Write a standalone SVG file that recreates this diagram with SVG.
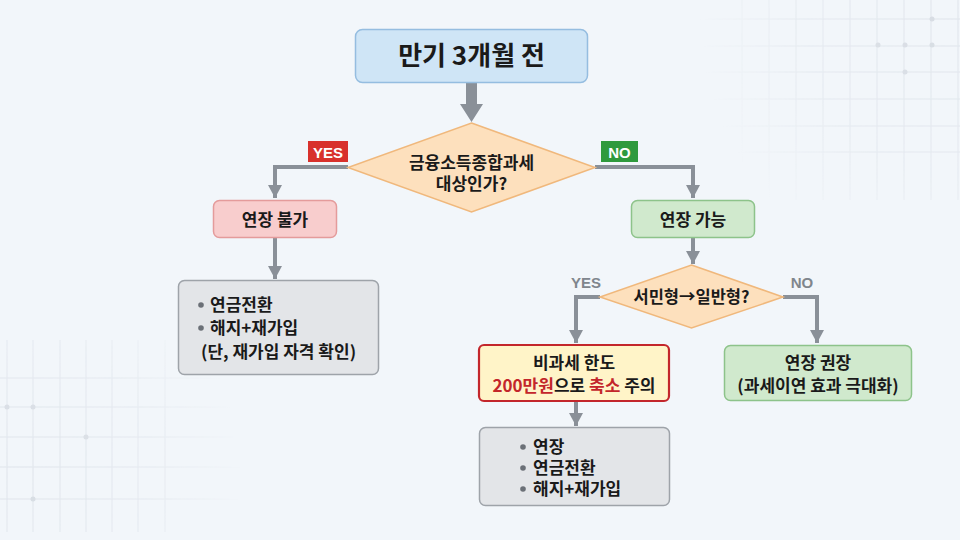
<svg xmlns="http://www.w3.org/2000/svg" width="960" height="540" viewBox="0 0 960 540">
<defs>
<style>
.t{font-family:"Noto Sans CJK KR","Noto Sans",sans-serif;fill:#1a1a1a;text-anchor:middle;font-weight:700}
.tl{font-family:"Noto Sans CJK KR","Noto Sans",sans-serif;fill:#1a1a1a;font-weight:700}
.c{fill:none;stroke:#8a9098;stroke-width:4}
.g{stroke:#dfe4eb;stroke-width:1}
.dot{fill:#d6dbe2}
.lbl{font-family:"Liberation Sans","Noto Sans",sans-serif;font-weight:700;text-anchor:middle}
</style>
<marker id="ah" viewBox="0 0 13 14" refX="13" refY="7" markerWidth="13" markerHeight="14" markerUnits="userSpaceOnUse" orient="auto">
<path d="M0,0 L13,7 L0,14 Z" fill="#8a9098"/>
</marker>
<radialGradient id="fadeTR" cx="960" cy="20" r="260" gradientUnits="userSpaceOnUse">
<stop offset="0" stop-color="#fff" stop-opacity="1"/>
<stop offset="0.6" stop-color="#fff" stop-opacity="0.7"/>
<stop offset="1" stop-color="#fff" stop-opacity="0"/>
</radialGradient>
<radialGradient id="fadeBL" cx="20" cy="470" r="220" gradientUnits="userSpaceOnUse">
<stop offset="0" stop-color="#fff" stop-opacity="1"/>
<stop offset="0.6" stop-color="#fff" stop-opacity="0.7"/>
<stop offset="1" stop-color="#fff" stop-opacity="0"/>
</radialGradient>
<mask id="mTR"><rect x="600" y="0" width="360" height="260" fill="url(#fadeTR)"/></mask>
<mask id="mBL"><rect x="0" y="330" width="280" height="210" fill="url(#fadeBL)"/></mask>
</defs>
<rect width="960" height="540" fill="#f2f6fa"/>
<g id="grid-tr" mask="url(#mTR)">
<path class="g" d="M742,0V200 M769,0V200 M796,0V200 M823,0V200 M850,0V200 M877,0V200 M904,0V200 M931,0V200 M958,0V200 M700,19H960 M700,46H960 M700,72H960 M700,99H960 M700,126H960 M700,152H960"/>
<circle class="dot" cx="932" cy="19" r="2.5"/>
<circle class="dot" cx="878" cy="45" r="2.5"/>
<circle class="dot" cx="905" cy="45" r="2.5"/>
<circle class="dot" cx="932" cy="45" r="2.5"/>
<circle class="dot" cx="905" cy="72" r="2.5"/>
</g>
<g id="grid-bl" mask="url(#mBL)">
<path class="g" d="M7,340V532 M33,340V532 M60,340V532 M86,340V532 M112,340V532 M138,340V532 M165,340V532 M0,378H240 M0,407H240 M0,437H240 M0,467H240 M0,499H240"/>
<circle class="dot" cx="7" cy="407" r="2.5"/>
<circle class="dot" cx="33" cy="407" r="2.5"/>
<circle class="dot" cx="86" cy="437" r="2.5"/>
<circle class="dot" cx="33" cy="499" r="2.5"/>
</g>

<g id="connectors">
<path d="M466,82 V104 H460 L471.5,122 L483,104 H477 V82 Z" fill="#8a9098"/>
<path class="c" d="M348,167 H275 V198" marker-end="url(#ah)"/>
<path class="c" d="M595,167 H693 V198" marker-end="url(#ah)"/>
<path class="c" d="M275,238 V279" marker-end="url(#ah)"/>
<path class="c" d="M693,238 V264" marker-end="url(#ah)"/>
<path class="c" d="M600,297 H576 V343" marker-end="url(#ah)"/>
<path class="c" d="M783,297 H817 V343" marker-end="url(#ah)"/>
<path class="c" d="M576,402 V426" marker-end="url(#ah)"/>
<g id="label-yes1">
<rect x="308" y="141" width="40" height="21" fill="#d8312c"/>
<text class="lbl" x="328" y="157.5" font-size="15" fill="#ffffff">YES</text>
</g>
<g id="label-no1">
<rect x="601" y="141" width="37" height="21" fill="#2f9a3d"/>
<text class="lbl" x="619.5" y="157.5" font-size="15" fill="#ffffff">NO</text>
</g>
<text id="label-yes2" class="lbl" x="586" y="288" font-size="15" fill="#80868d">YES</text>
<text id="label-no2" class="lbl" x="802" y="288" font-size="15" fill="#80868d">NO</text>
</g>

<g id="start">
<rect x="355.5" y="29.5" width="232" height="53" rx="7" fill="#cfe5f6" stroke="#95bde0" stroke-width="1.5"/>
<text class="t" x="471.5" y="65" font-size="26">만기 3개월 전</text>
</g>
<g id="decision1">
<polygon points="471.5,123 595,167.5 471.5,212 348,167.5" fill="#fde0bd" stroke="#f0b87c" stroke-width="1.5"/>
<text class="t" x="471.5" y="169" font-size="17" font-weight="600">금융소득종합과세</text>
<text class="t" x="471.5" y="190" font-size="17" font-weight="600">대상인가?</text>
</g>
<g id="no-extend">
<rect x="213.5" y="200.5" width="123" height="37" rx="6" fill="#f8cdcd" stroke="#e49b9b" stroke-width="1.5"/>
<text class="t" x="275" y="225.5" font-size="17">연장 불가</text>
</g>
<g id="can-extend">
<rect x="631.5" y="200.5" width="123" height="37" rx="6" fill="#d0e9cd" stroke="#8dc38a" stroke-width="1.5"/>
<text class="t" x="693" y="225.5" font-size="17">연장 가능</text>
</g>
<g id="options-left">
<rect x="178.5" y="280.5" width="200" height="94" rx="6" fill="#e3e5e8" stroke="#9ea3a9" stroke-width="1.5"/>
<circle cx="201" cy="305" r="2.8" fill="#6b7077"/>
<text class="tl" x="210" y="311" font-size="17">연금전환</text>
<circle cx="201" cy="328" r="2.8" fill="#6b7077"/>
<text class="tl" x="210" y="334" font-size="17">해지+재가입</text>
<text class="tl" x="201" y="358" font-size="17">(단, 재가입 자격 확인)</text>
</g>
<g id="decision2">
<polygon points="691.5,265 783,297 691.5,328 600,297" fill="#fde0bd" stroke="#f0b87c" stroke-width="1.5"/>
<text class="t" x="691.5" y="303" font-size="16.5" font-weight="600">서민형→일반형?</text>
</g>
<g id="warning">
<rect x="479" y="345" width="190" height="56" rx="5" fill="#fff4c8" stroke="#c3262b" stroke-width="2.2"/>
<text class="t" x="574" y="368.5" font-size="17" font-weight="600">비과세 한도</text>
<text class="t" x="574" y="392" font-size="17" font-weight="600"><tspan fill="#c3262b">200만원</tspan>으로 <tspan fill="#c3262b">축소</tspan> 주의</text>
</g>
<g id="recommend">
<rect x="724.5" y="345.5" width="187" height="55" rx="6" fill="#d0e9cd" stroke="#8dc38a" stroke-width="1.5"/>
<text class="t" x="818" y="368.5" font-size="17" font-weight="600">연장 권장</text>
<text class="t" x="818" y="392" font-size="17" font-weight="600">(과세이연 효과 극대화)</text>
</g>
<g id="options-bottom">
<rect x="479.5" y="427.5" width="190" height="78" rx="6" fill="#e3e5e8" stroke="#9ea3a9" stroke-width="1.5"/>
<circle cx="523" cy="447" r="2.8" fill="#6b7077"/>
<text class="tl" x="533" y="453" font-size="17">연장</text>
<circle cx="523" cy="468" r="2.8" fill="#6b7077"/>
<text class="tl" x="533" y="474" font-size="17">연금전환</text>
<circle cx="523" cy="489" r="2.8" fill="#6b7077"/>
<text class="tl" x="533" y="495" font-size="17">해지+재가입</text>
</g>
</svg>
